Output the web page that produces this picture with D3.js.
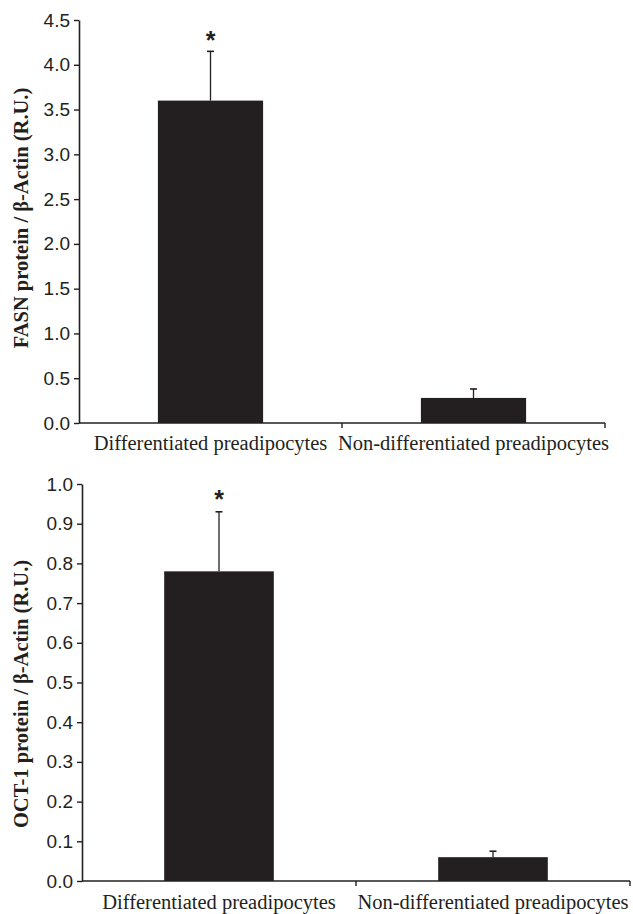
<!DOCTYPE html>
<html>
<head>
<meta charset="utf-8">
<script src="https://cdn.jsdelivr.net/npm/d3@7"></script>
<style>
  body { margin: 0; background: #fff; }
  .tick text { font-family: "Liberation Sans", Arial, sans-serif; }
</style>
</head>
<body>
<svg id="chart" width="633" height="914"></svg>
<script>
var categories = ["Differentiated preadipocytes", "Non-differentiated preadipocytes"];

// FASN panel
var fasnMeans = [3.6, 0.28];
var fasnErrors = [0.55, 0.10];
var fasnTicks = [0, 0.5, 1.0, 1.5, 2.0, 2.5, 3.0, 3.5, 4.0, 4.5];
var fasnStars = ["*", ""];

// OCT-1 panel
var octMeans = [0.78, 0.06];
var octErrors = [0.15, 0.015];
var octTicks = [0, 0.1, 0.2, 0.3, 0.4, 0.5, 0.6, 0.7, 0.8, 0.9, 1.0];
var octStars = ["*", ""];

var svg = d3.select("#chart");

function drawPanel(opt) {
  var g = svg.append("g");

  var x = d3.scaleBand()
    .domain(categories)
    .range([opt.left, opt.right])
    .paddingInner(0)
    .paddingOuter(0);

  var y = d3.scaleLinear()
    .domain([0, opt.max])
    .range([opt.bottom, opt.top]);

  var barW = x.bandwidth() * 0.4;

  var rows = categories.map(function(c, i) {
    return {cat: c, mean: opt.means[i], err: opt.errors[i], star: opt.stars[i]};
  });

  // bars
  g.selectAll("rect.bar")
    .data(rows)
    .enter().append("rect")
    .attr("class", "bar")
    .attr("x", function(d) { return x(d.cat) + x.bandwidth() / 2 - barW / 2; })
    .attr("y", function(d) { return y(d.mean); })
    .attr("width", barW)
    .attr("height", function(d) { return y(0) - y(d.mean); })
    .attr("fill", "#231f20");

  // error bars (upper only)
  g.selectAll("line.err")
    .data(rows)
    .enter().append("line")
    .attr("x1", function(d) { return x(d.cat) + x.bandwidth() / 2; })
    .attr("x2", function(d) { return x(d.cat) + x.bandwidth() / 2; })
    .attr("y1", function(d) { return y(d.mean); })
    .attr("y2", function(d) { return y(d.mean + d.err); })
    .attr("stroke", "#231f20")
    .attr("stroke-width", 1.3);

  g.selectAll("line.cap")
    .data(rows)
    .enter().append("line")
    .attr("x1", function(d) { return x(d.cat) + x.bandwidth() / 2 - 3.5; })
    .attr("x2", function(d) { return x(d.cat) + x.bandwidth() / 2 + 3.5; })
    .attr("y1", function(d) { return y(d.mean + d.err); })
    .attr("y2", function(d) { return y(d.mean + d.err); })
    .attr("stroke", "#231f20")
    .attr("stroke-width", 1.6);

  // significance stars
  g.selectAll("text.star")
    .data(rows)
    .enter().append("text")
    .attr("x", function(d) { return x(d.cat) + x.bandwidth() / 2; })
    .attr("y", function(d) { return y(d.mean + d.err) + opt.starDy; })
    .attr("text-anchor", "middle")
    .attr("font-family", "Liberation Sans, Arial, sans-serif")
    .attr("font-weight", "bold")
    .attr("font-size", 25)
    .attr("fill", "#231f20")
    .text(function(d) { return d.star; });

  // y axis
  var yAxis = g.append("g")
    .attr("transform", "translate(" + opt.left + ",0)")
    .call(d3.axisLeft(y).tickValues(opt.ticks).tickFormat(d3.format(".1f")).tickSize(5).tickSizeOuter(0));
  yAxis.select(".domain").attr("stroke", "#231f20").attr("stroke-width", 1.6);
  yAxis.selectAll(".tick line").attr("stroke", "#231f20").attr("stroke-width", 1.4);
  yAxis.selectAll(".tick text")
    .attr("font-size", 19)
    .attr("fill", "#231f20")
    .attr("x", -9);

  // x axis: ticks at band boundaries
  var xAxis = g.append("g")
    .attr("transform", "translate(0," + opt.bottom + ")");
  xAxis.append("line")
    .attr("x1", opt.left).attr("x2", opt.right)
    .attr("stroke", "#231f20").attr("stroke-width", 1.6);
  var bounds = categories.map(function(c) { return x(c) + x.bandwidth(); });
  xAxis.selectAll("line.xt")
    .data(bounds)
    .enter().append("line")
    .attr("x1", function(d) { return d; })
    .attr("x2", function(d) { return d; })
    .attr("y1", 0).attr("y2", 5)
    .attr("stroke", "#231f20").attr("stroke-width", 1.4);
  xAxis.selectAll("text.xl")
    .data(categories)
    .enter().append("text")
    .attr("x", function(d) { return x(d) + x.bandwidth() / 2; })
    .attr("y", opt.labelDy)
    .attr("text-anchor", "middle")
    .attr("font-family", "Liberation Serif, Times New Roman, serif")
    .attr("font-size", 20.5)
    .attr("fill", "#231f20")
    .text(function(d) { return d; });

  // y title
  g.append("text")
    .attr("transform", "translate(" + opt.titleX + "," + opt.titleY + ") rotate(-90)")
    .attr("text-anchor", "middle")
    .attr("font-family", "Liberation Serif, Times New Roman, serif")
    .attr("font-weight", "bold")
    .attr("font-size", 20.5)
    .attr("fill", "#231f20")
    .text(opt.title);
}

drawPanel({
  left: 79, right: 605, top: 20, bottom: 423,
  max: 4.5, ticks: fasnTicks,
  means: fasnMeans, errors: fasnErrors, stars: fasnStars,
  title: "FASN protein / \u03b2-Actin (R.U.)", titleX: 28, titleY: 218,
  labelDy: 27, starDy: -2
});

drawPanel({
  left: 82, right: 630, top: 484, bottom: 881,
  max: 1.0, ticks: octTicks,
  means: octMeans, errors: octErrors, stars: octStars,
  title: "OCT-1 protein / \u03b2-Actin (R.U.)", titleX: 28, titleY: 694,
  labelDy: 28, starDy: -4
});
</script>
</body>
</html>
